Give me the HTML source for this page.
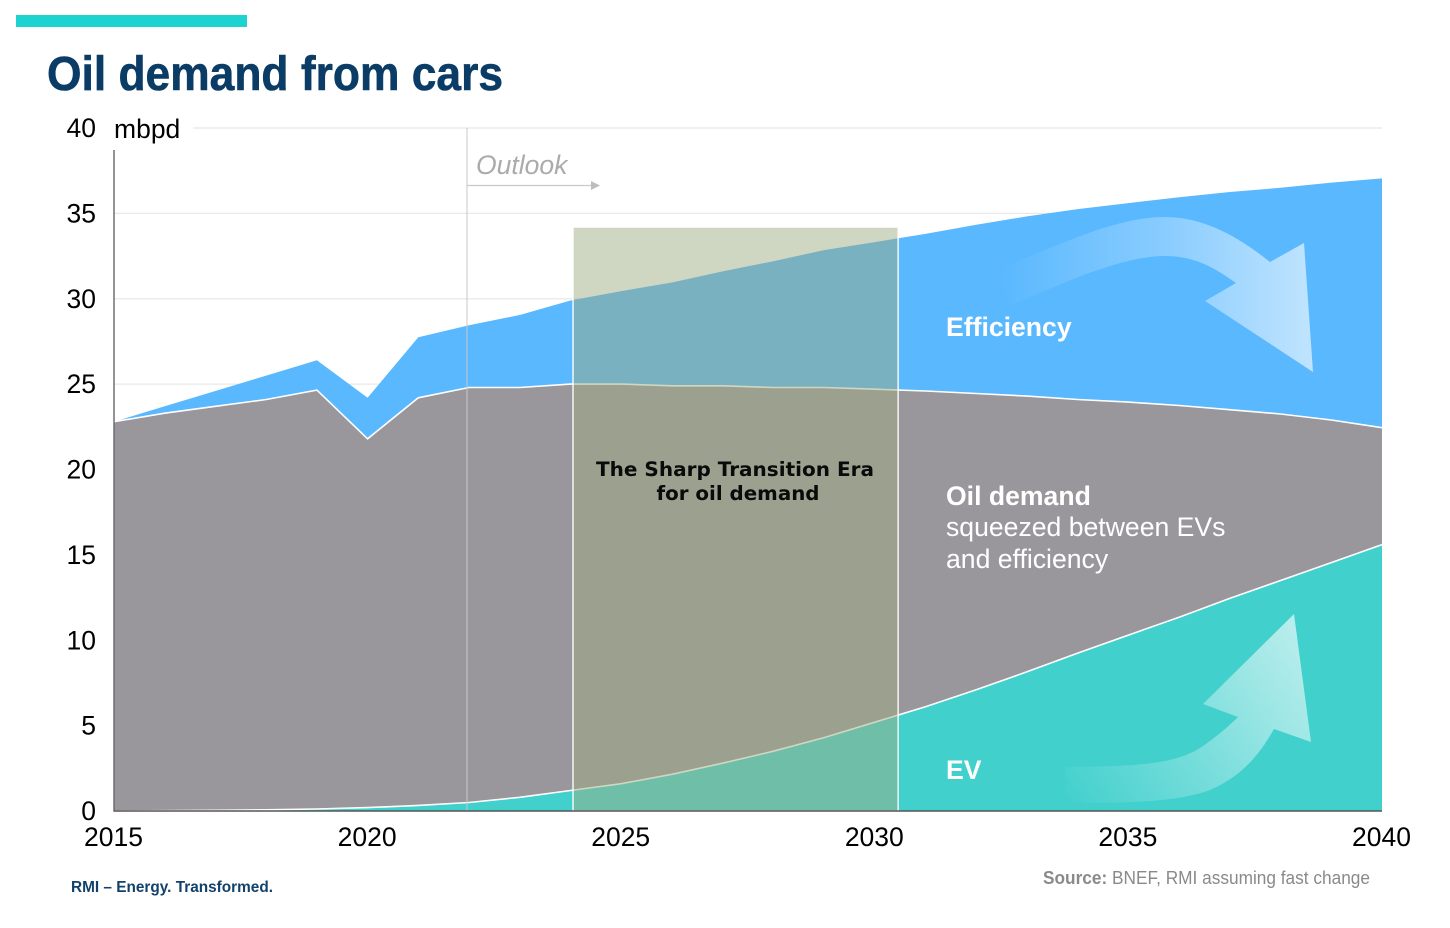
<!DOCTYPE html>
<html>
<head>
<meta charset="utf-8">
<title>Oil demand from cars</title>
<style>
html,body{margin:0;padding:0;background:#fff;}
svg{display:block;font-family:"Liberation Sans",sans-serif;}
</style>
</head>
<body>
<svg id="chart" xmlns="http://www.w3.org/2000/svg" width="1450" height="928" viewBox="0 0 1450 928">
  <defs>
    <linearGradient id="effGrad" gradientUnits="userSpaceOnUse" x1="1000" y1="0" x2="1313" y2="0">
      <stop offset="0" stop-color="#fff" stop-opacity="0"/>
      <stop offset="0.55" stop-color="#fff" stop-opacity="0.3"/>
      <stop offset="1" stop-color="#fff" stop-opacity="0.62"/>
    </linearGradient>
    <linearGradient id="evGrad" gradientUnits="userSpaceOnUse" x1="1065" y1="800" x2="1300" y2="640">
      <stop offset="0" stop-color="#fff" stop-opacity="0"/>
      <stop offset="0.5" stop-color="#fff" stop-opacity="0.3"/>
      <stop offset="1" stop-color="#fff" stop-opacity="0.62"/>
    </linearGradient>
  </defs>
  <rect x="0" y="0" width="1450" height="928" fill="#fff"/>
  <rect x="16" y="15" width="231" height="12" fill="#1dd3cf"/>
  <text x="47" y="90" font-size="48" font-weight="700" fill="#0a3c66" stroke="#0a3c66" stroke-width="0.6" textLength="456" lengthAdjust="spacingAndGlyphs">Oil demand from cars</text>
  <g id="gridLayer"></g>
  <g id="areaLayer"></g>
  <g id="overlayLayer"></g>
  <path fill="url(#effGrad)" d="M1000 268 C1060 245 1115 217 1165 217 C1205 217 1240 238 1270 262 L1304 243 L1313 372 L1205 301 L1236 283 C1215 268 1195 256 1165 256 C1120 256 1060 285 1008 306 Z"/>
  <path fill="url(#evGrad)" d="M1065 767 C1120 766 1170 767 1200 748 C1215 738 1228 727 1238 717 L1203 704 L1294 614 L1311 742 L1274 729 C1262 750 1245 775 1210 790 C1175 803 1120 803 1065 803 Z"/>
  <g id="axisLayer"></g>
  <text x="114" y="138" font-size="26.5" fill="#000">mbpd</text>
  <text x="476" y="174" font-size="26.5" font-style="italic" fill="#ababab">Outlook</text>
  <text x="946" y="336" font-size="26.6" font-weight="700" fill="#fff">Efficiency</text>
  <text x="946" y="505" font-size="26.6" font-weight="700" fill="#fff">Oil demand</text>
  <text x="946" y="536" font-size="26.6" fill="#fff">squeezed between EVs</text>
  <text x="946" y="568" font-size="26.6" fill="#fff">and efficiency</text>
  <text x="946" y="779" font-size="26.6" font-weight="700" fill="#fff">EV</text>
  <text x="735" y="476" text-anchor="middle" font-family="'DejaVu Sans',sans-serif" font-size="19.5" font-weight="700" fill="#0a0a0a" textLength="278" lengthAdjust="spacingAndGlyphs">The Sharp Transition Era</text>
  <text x="738" y="500" text-anchor="middle" font-family="'DejaVu Sans',sans-serif" font-size="19.5" font-weight="700" fill="#0a0a0a" textLength="163" lengthAdjust="spacingAndGlyphs">for oil demand</text>
  <text x="71" y="892" font-size="16" font-weight="700" fill="#12416b" textLength="202" lengthAdjust="spacingAndGlyphs">RMI – Energy. Transformed.</text>
  <text x="1043" y="884" font-size="18" fill="#8a8a8a" textLength="327" lengthAdjust="spacingAndGlyphs"><tspan font-weight="700">Source:</tspan> BNEF, RMI assuming fast change</text>
</svg>
<script>
const years = [2015,2016,2017,2018,2019,2020,2021,2022,2023,2024,2025,2026,2027,2028,2029,2030,2031,2032,2033,2034,2035,2036,2037,2038,2039,2040];
const evDemand = [0,0.02,0.04,0.07,0.12,0.2,0.33,0.5,0.8,1.2,1.6,2.15,2.8,3.5,4.3,5.2,6.1,7.1,8.15,9.25,10.3,11.35,12.45,13.5,14.55,15.6];
const oilDemand = [22.8,23.28,23.66,24.03,24.53,21.6,23.87,24.3,24.0,23.8,23.4,22.75,22.1,21.3,20.5,19.5,18.5,17.35,16.15,14.85,13.65,12.4,11.05,9.75,8.35,6.85];
const efficiency = [0,0.4,0.9,1.4,1.75,2.4,3.55,3.65,4.25,4.9,5.45,6.05,6.7,7.4,8.05,8.62,9.2,9.88,10.52,11.15,11.65,12.2,12.75,13.25,13.9,14.6];
const yTickLabels = [0,5,10,15,20,25,30,35,40];
const xTickLabels = [2015,2020,2025,2030,2035,2040];
const outlookYear = 2021.96;
const eraStartYear = 2024.05;
const eraEndYear = 2030.46;
const eraTopValue = 34.2;

const SVGNS = 'http://www.w3.org/2000/svg';
const xScale = v => 114 + (v - 2015) * (1382 - 114) / 25;
const yScale = v => 811 - v * (811 - 128) / 40;

function make(tag, parent, attrs) {
  const el = document.createElementNS(SVGNS, tag);
  for (const k in attrs) el.setAttribute(k, attrs[k]);
  parent.appendChild(el);
  return el;
}

const gridLayer = document.getElementById('gridLayer');
const areaLayer = document.getElementById('areaLayer');
const overlayLayer = document.getElementById('overlayLayer');
const axisLayer = document.getElementById('axisLayer');

yTickLabels.forEach(t => {
  if (t === 0) return;
  const line = make('line', gridLayer, {x1: t === 40 ? 193 : xScale(2015), x2: xScale(2040), y1: yScale(t), y2: yScale(t), stroke: '#e8e8e8', 'stroke-width': 1.2});
  
  
});

const evTop = evDemand.map(v => v);
const oilTop = evDemand.map((v, i) => v + oilDemand[i]);
const effTop = oilTop.map((v, i) => v + efficiency[i]);

function band(upper, lower) {
  const up = years.map((y, i) => xScale(y).toFixed(1) + ' ' + yScale(upper[i]).toFixed(1));
  const low = years.map((y, i) => xScale(y).toFixed(1) + ' ' + yScale(lower ? lower[i] : 0).toFixed(1)).reverse();
  return 'M' + up.join(' L') + ' L' + low.join(' L') + ' Z';
}
function linePath(vals) {
  return 'M' + years.map((y, i) => xScale(y).toFixed(1) + ' ' + yScale(vals[i]).toFixed(1)).join(' L');
}

const effArea = make('path', areaLayer, {d: band(effTop, oilTop), fill: '#5ab8fe'});


const oilArea = make('path', areaLayer, {d: band(oilTop, evTop), fill: '#9a979c'});


const evArea = make('path', areaLayer, {d: band(evTop, null), fill: '#42d0cd'});


const oilLine = make('path', areaLayer, {d: linePath(oilTop), fill: 'none', stroke: '#fff', 'stroke-width': 1.6});


const evLine = make('path', areaLayer, {d: linePath(evTop), fill: 'none', stroke: '#fff', 'stroke-width': 1.6});



const outlookLine = make('line', overlayLayer, {x1: xScale(outlookYear), x2: xScale(outlookYear), y1: yScale(40), y2: yScale(0), stroke: '#c9c9c9', 'stroke-width': 1});


const outlookArrow = make('line', overlayLayer, {x1: xScale(outlookYear), x2: 592, y1: 185.5, y2: 185.5, stroke: '#c9c9c9', 'stroke-width': 1.3});


const outlookHead = make('path', overlayLayer, {d: 'M591 181 L600 185.5 L591 190 Z', fill: '#bdbdbd'});



const era = make('rect', overlayLayer, {
  x: xScale(eraStartYear), y: yScale(eraTopValue),
  width: xScale(eraEndYear) - xScale(eraStartYear),
  height: yScale(0) - yScale(eraTopValue),
  fill: 'rgba(156,170,130,0.485)', stroke: 'rgba(255,255,255,0.9)', 'stroke-width': 1.5
});



const yAxis = make('line', axisLayer, {x1: 114, x2: 114, y1: 150, y2: 811.5, stroke: '#666', 'stroke-width': 1.4});


const xAxis = make('line', axisLayer, {x1: 113.5, x2: xScale(2040), y1: 811, y2: 811, stroke: '#555', 'stroke-width': 1.5});



yTickLabels.forEach(t => {
  const label = make('text', axisLayer, {x: 96, y: yScale(t) + 9, 'text-anchor': 'end', 'font-size': 26.5, fill: '#000'});
  label.textContent = String(t);
  
  
});
xTickLabels.forEach(t => {
  const label = make('text', axisLayer, {x: xScale(t) - 0.5, y: 846, 'text-anchor': 'middle', 'font-size': 26.5, fill: '#000'});
  label.textContent = String(t);
  
  
});
</script>
</body>
</html>
